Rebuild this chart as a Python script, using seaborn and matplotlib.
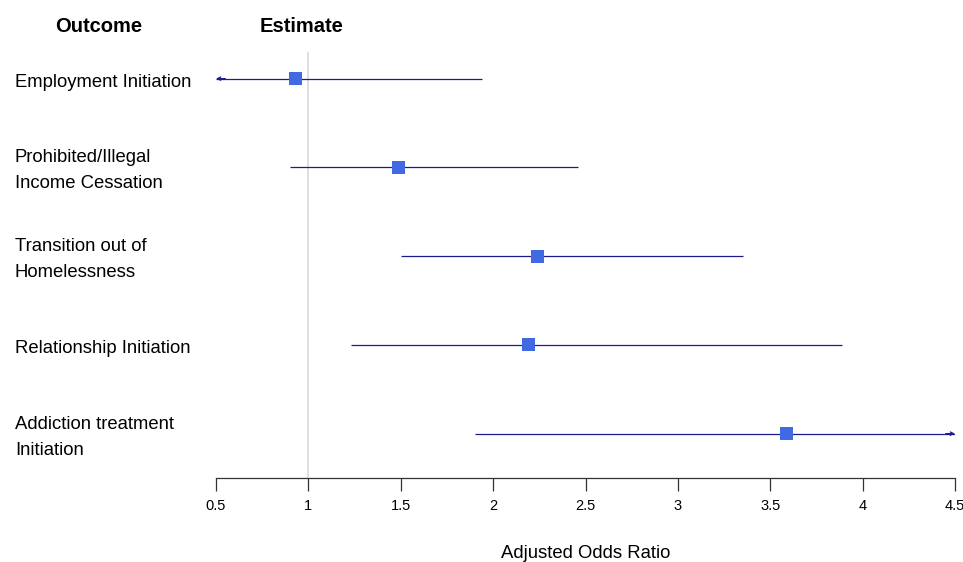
import pandas as pd
import seaborn as sns
import matplotlib.pyplot as plt
from matplotlib import transforms

outcomes = ["Employment Initiation",
            "Prohibited/Illegal\nIncome Cessation",
            "Transition out of\nHomelessness",
            "Relationship Initiation",
            "Addiction treatment\nInitiation"]
estimates = [0.93, 1.49, 2.24, 2.19, 3.59]
ci_low = [0.42, 0.90, 1.50, 1.23, 1.90]
ci_high = [1.94, 2.46, 3.35, 3.89, 5.10]
ticks = [0.5, 1, 1.5, 2, 2.5, 3, 3.5, 4, 4.5]
tick_labels = ["0.5", "1", "1.5", "2", "2.5", "3", "3.5", "4", "4.5"]

xmin, xmax = 0.5, 4.5
df = pd.DataFrame({"outcome": outcomes, "est": estimates,
                   "lo": ci_low, "hi": ci_high, "row": range(len(outcomes))})

sns.set_theme(style="white")
plt.rcParams['font.family'] = ['Liberation Sans', 'DejaVu Sans']
plt.rcParams['text.color'] = 'black'
plt.rcParams['xtick.color'] = 'black'
plt.rcParams['axes.labelcolor'] = 'black'

fig = plt.figure(figsize=(9.63, 5.62), dpi=100)
ax = fig.add_axes([216 / 963, 1 - 478 / 562, (955 - 216) / 963, (478 - 52) / 562])

line_col = "#1c1c8c"
ax.axvline(1, color="#d9d9d9", lw=1.2, zorder=0)

sns.scatterplot(data=df, x="est", y="row", marker="s", s=90, color="#4169e1",
                edgecolor="none", ax=ax, zorder=3, clip_on=False)
ax.set_xlim(xmin, xmax)
ax.set_ylim(4.5, -0.3)

arrow = dict(arrowstyle="->", color=line_col, lw=0.9, mutation_scale=6,
             shrinkA=0, shrinkB=0)
for _, r in df.iterrows():
    lo = max(r["lo"], xmin)
    hi = min(r["hi"], xmax)
    ax.hlines(r["row"], lo, hi, color=line_col, lw=0.9, zorder=1)
    if r["lo"] < xmin:
        ax.annotate("", xy=(xmin, r["row"]), xytext=(xmin + 0.05, r["row"]),
                    arrowprops=arrow)
    if r["hi"] > xmax:
        ax.annotate("", xy=(xmax, r["row"]), xytext=(xmax - 0.05, r["row"]),
                    arrowprops=arrow)

# row labels at the left edge of the figure, aligned to the data rows
lab_trans = transforms.blended_transform_factory(fig.transFigure, ax.transData)
lab_trans = lab_trans + transforms.ScaledTranslation(0, -3.5 / 100, fig.dpi_scale_trans)
for _, r in df.iterrows():
    fig.text(15 / 963, r["row"], r["outcome"], transform=lab_trans,
             fontsize=13.3, va="center", ha="left", linespacing=1.7)

fig.text(99 / 963, 1 - 27 / 562, "Outcome", fontsize=14.5, fontweight="bold",
         ha="center", va="center")
fig.text(302 / 963, 1 - 27 / 562, "Estimate", fontsize=14.5, fontweight="bold",
         ha="center", va="center")

sns.despine(ax=ax, left=True, top=True, right=True)
ax.spines["bottom"].set_color("#333333")
ax.spines["bottom"].set_linewidth(0.9)
ax.set_yticks([])
ax.set_xticks(ticks)
ax.set_xticklabels(tick_labels, fontsize=10.5)
ax.tick_params(axis="x", bottom=True, length=9, width=0.9, color="#333333", pad=6)
ax.set_xlabel("Adjusted Odds Ratio", fontsize=13.3, va="center")
ax.xaxis.set_label_coords(0.5, -(553 - 478) / 426)
ax.set_ylabel("")

fig.savefig("out.png", dpi=100)
